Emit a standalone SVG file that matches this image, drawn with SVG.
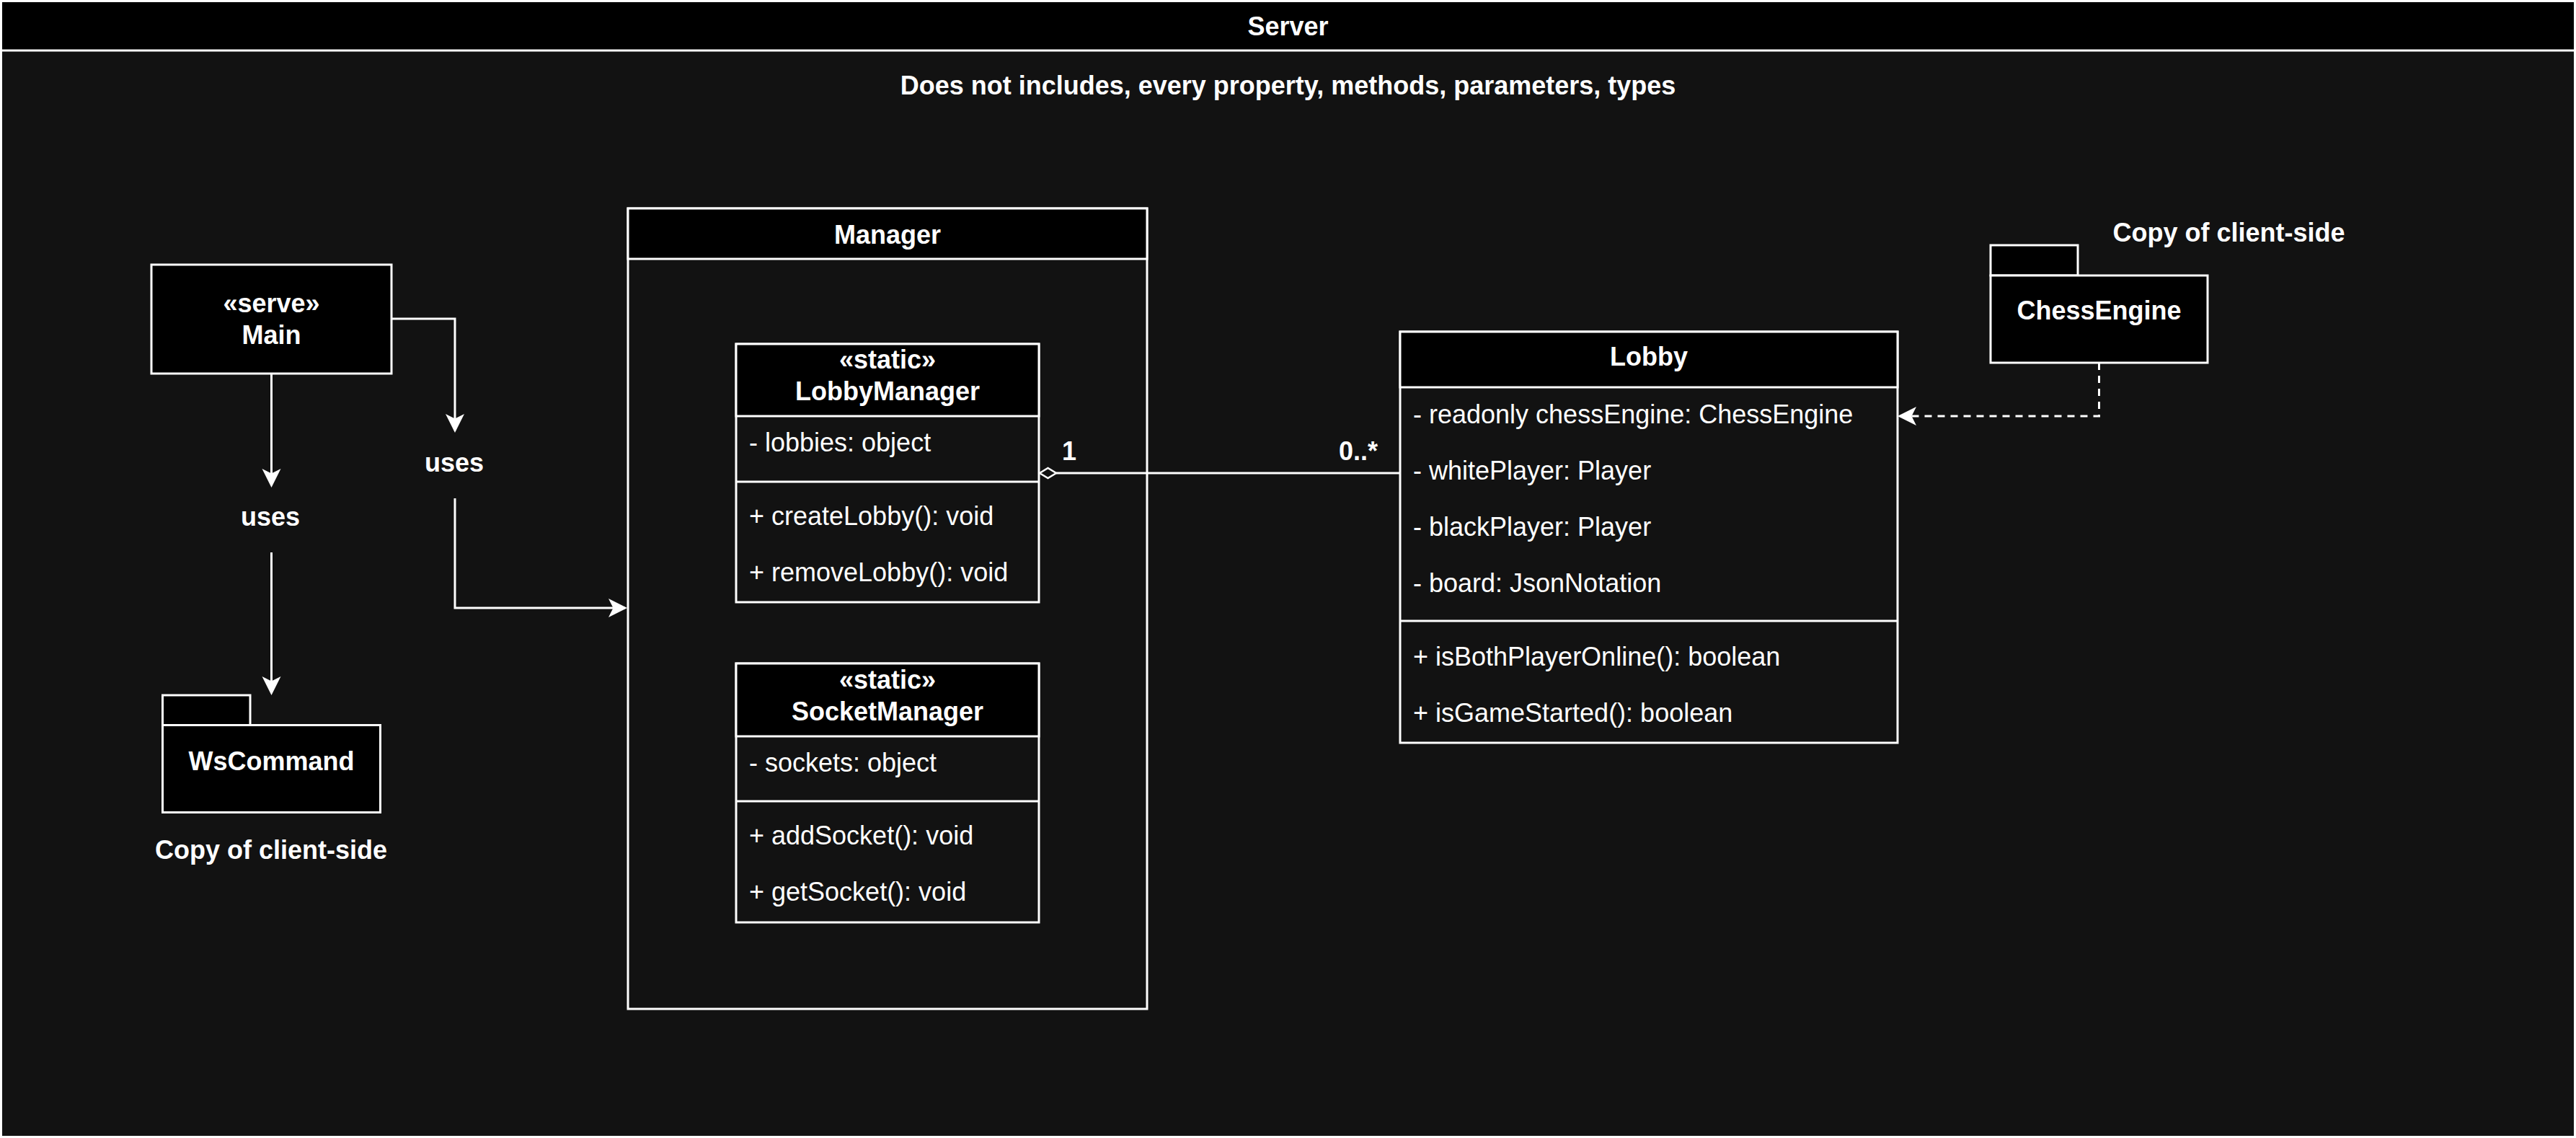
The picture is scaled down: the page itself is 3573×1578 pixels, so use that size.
<svg xmlns="http://www.w3.org/2000/svg" width="3573" height="1578" viewBox="0 0 3573 1578">
<style>
text{font-family:"Liberation Sans",Arial,Helvetica,sans-serif;font-size:36px;fill:#ffffff}
.b{font-weight:bold}
.c{text-anchor:middle}
.bx{fill:#121212;stroke:#ffffff;stroke-width:3}
.hd{fill:#000000;stroke:#ffffff;stroke-width:3}
.ln{fill:none;stroke:#ffffff;stroke-width:3}
.ed{fill:none;stroke:#ffffff;stroke-width:3}
.dash{stroke-dasharray:10 8}
</style>
<defs>
<marker id="arr" markerUnits="userSpaceOnUse" markerWidth="32" markerHeight="32" viewBox="-26 -16 32 32" refX="0" refY="0" orient="auto">
<path d="M3,0 L-23,-13 L-16.5,0 L-23,13 Z" fill="#ffffff"/>
</marker>
</defs>

<g id="server">
<rect class="bx" x="1.5" y="1.5" width="3570" height="1575"/>
<rect class="hd" x="1.5" y="1.5" width="3570" height="68.5"/>
<text class="b c" x="1786.5" y="49">Server</text>
<text class="b c" x="1786.5" y="131">Does not includes, every property, methods, parameters, types</text>
</g>

<g id="main">
<rect class="hd" x="210" y="367" width="333" height="151"/>
<text class="b c" x="376.5" y="433">«serve»</text>
<text class="b c" x="376.5" y="477">Main</text>
</g>

<g id="uses1">
<text class="b c" x="375" y="729">uses</text>
</g>

<g id="uses2">
<text class="b c" x="630" y="654">uses</text>
</g>

<g id="wscommand">
<rect class="hd" x="225.5" y="964" width="121.5" height="41.5"/>
<rect class="hd" x="225.5" y="1005.5" width="302" height="121"/>
<text class="b c" x="376.5" y="1068">WsCommand</text>
</g>

<g id="copy-left">
<text class="b c" x="376" y="1191">Copy of client-side</text>
</g>

<g id="manager">
<rect class="bx" x="871" y="289" width="720" height="1110"/>
<rect class="hd" x="871" y="289" width="720" height="70"/>
<text class="b c" x="1231" y="338">Manager</text>
</g>

<g id="lobbymanager">
<rect class="bx" x="1021" y="477" width="420" height="358"/>
<rect class="hd" x="1021" y="477" width="420" height="100"/>
<line class="ln" x1="1021" y1="668" x2="1441" y2="668"/>
<text class="b c" x="1231" y="511">«static»</text>
<text class="b c" x="1231" y="555">LobbyManager</text>
<text x="1039" y="626">- lobbies: object</text>
<text x="1039" y="728">+ createLobby(): void</text>
<text x="1039" y="806">+ removeLobby(): void</text>
</g>

<g id="socketmanager">
<rect class="bx" x="1021" y="920" width="420" height="359"/>
<rect class="hd" x="1021" y="920" width="420" height="101"/>
<line class="ln" x1="1021" y1="1111" x2="1441" y2="1111"/>
<text class="b c" x="1231" y="955">«static»</text>
<text class="b c" x="1231" y="999">SocketManager</text>
<text x="1039" y="1070">- sockets: object</text>
<text x="1039" y="1171">+ addSocket(): void</text>
<text x="1039" y="1249">+ getSocket(): void</text>
</g>

<g id="lobby">
<rect class="bx" x="1942" y="460" width="690" height="570"/>
<rect class="hd" x="1942" y="460" width="690" height="77"/>
<line class="ln" x1="1942" y1="861" x2="2632" y2="861"/>
<text class="b c" x="2287" y="507">Lobby</text>
<text x="1960" y="587">- readonly chessEngine: ChessEngine</text>
<text x="1960" y="665">- whitePlayer: Player</text>
<text x="1960" y="743">- blackPlayer: Player</text>
<text x="1960" y="821">- board: JsonNotation</text>
<text x="1960" y="923">+ isBothPlayerOnline(): boolean</text>
<text x="1960" y="1001">+ isGameStarted(): boolean</text>
</g>

<g id="chessengine">
<rect class="hd" x="2761" y="340" width="121" height="42"/>
<rect class="hd" x="2761" y="382" width="301" height="121"/>
<text class="b c" x="2911.5" y="443">ChessEngine</text>
</g>

<g id="copy-right">
<text class="b c" x="3091.5" y="335">Copy of client-side</text>
</g>

<g id="connectors">
<path class="ed" d="M376.5,518 V673" marker-end="url(#arr)"/>
<path class="ed" d="M376.5,766 V961" marker-end="url(#arr)"/>
<path class="ed" d="M543,442 H631 V597" marker-end="url(#arr)"/>
<path class="ed" d="M631,691 V843 H867" marker-end="url(#arr)"/>
<path class="ed" d="M1465,656 H1942"/>
<path d="M1442,656 L1453.5,649 L1465,656 L1453.5,663 Z" fill="#121212" stroke="#ffffff" stroke-width="2.5"/>
<text class="b" x="1473" y="638">1</text>
<text class="b" x="1911" y="638" text-anchor="end">0..*</text>
<path class="ed dash" d="M2911.5,503 V577 H2635" marker-end="url(#arr)"/>
</g>
</svg>
